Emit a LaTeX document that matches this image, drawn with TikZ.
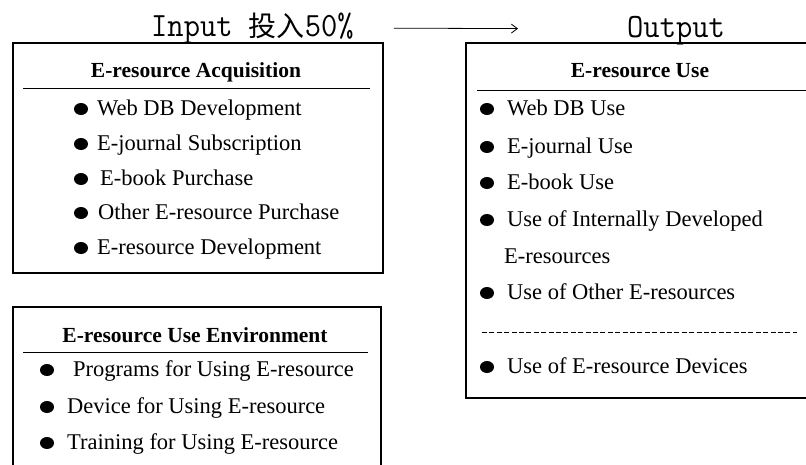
\documentclass[tikz,border=0pt]{standalone}
\usepackage{fontspec}
\setmainfont{Liberation Serif}
\newfontfamily\titlefont[FakeStretch=0.93]{Latin Modern Mono}
\newfontfamily\cjkfont{Noto Sans CJK SC}
\usetikzlibrary{arrows.meta}

\tikzset{
  boxline/.style={line width=1.3pt},
  headline/.style={line width=0.9pt},
  sepline/.style={line width=0.8pt, dash pattern=on 5pt off 2.4pt},
  head/.style={anchor=base, inner sep=0pt, font=\fontsize{21.5}{24}\selectfont\bfseries},
  item/.style={anchor=base west, inner sep=0pt, font=\fontsize{22.5}{26}\selectfont},
  title/.style={anchor=base west, inner sep=0pt, font=\fontsize{34}{38}\selectfont\titlefont},
  flow/.style={line width=0.8pt, -{Straight Barb[length=6pt,width=9pt]}}
}
\newcommand{\bulletdot}[2]{\fill (#1,#2) ellipse (7pt and 6pt);}

\begin{document}
\begin{tikzpicture}[x=1pt, y=-1pt]
        \useasboundingbox (0,0) rectangle (806,464);
        % \draw[help lines, gray!50, very thin] (0,0) grid[step=50] (806,464);

        \node[title] (input) at (151,36) {Input {\cjkfont\fontsize{28}{30}\selectfont 投入}50\%};
        \node[title] (output) at (627,37) {Output};
        \draw[flow, shorten <=40pt, shorten >=109pt] ([yshift=8pt]input.base east) -- ([yshift=8pt]output.base west);

        % input: acquisition
        \draw[boxline] (13,43) rectangle (383,273);
        \node[head] (acqhead) at (196,77) {E-resource Acquisition};
        \draw[headline] (23,88) -- (370,88);
        \bulletdot{81}{109}
        \node[item] (acqweb) at (97,115) {Web DB Development};
        \bulletdot{81}{144}
        \node[item] (acqjournal) at (97,150) {E-journal Subscription};
        \bulletdot{81}{179}
        \node[item] (acqbook) at (100,185) {E-book Purchase};
        \bulletdot{81}{213}
        \node[item] (acqother) at (98,219) {Other E-resource Purchase};
        \bulletdot{81}{248}
        \node[item] (acqdev) at (97,254) {E-resource Development};

        % input: environment
        \draw[boxline] (13,466) -- (13,307) -- (381,307) -- (381,466);
        \node[head] (envhead) at (195,342) {E-resource Use Environment};
        \draw[headline] (23,352) -- (368,352);
        \bulletdot{47}{370}
        \node[item] (envprog) at (73,376) {Programs for Using E-resource};
        \bulletdot{47}{407}
        \node[item] (envdevice) at (67,413) {Device for Using E-resource};
        \bulletdot{47}{443}
        \node[item] (envtrain) at (67,449) {Training for Using E-resource};

        % output: use
        \draw[boxline] (808,43) -- (466,43) -- (466,398) -- (808,398);
        \node[head] (usehead) at (640,77) {E-resource Use};
        \draw[headline] (477,90) -- (806,90);
        \bulletdot{487}{109}
        \node[item] (useweb) at (507,115) {Web DB Use};
        \bulletdot{487}{147}
        \node[item] (usejournal) at (507,153) {E-journal Use};
        \bulletdot{487}{183}
        \node[item] (usebook) at (507,189) {E-book Use};
        \bulletdot{487}{220}
        \node[item] (useinternal) at (507,226) {Use of Internally Developed};
        \node[item] (useinternalb) at (504,263) {E-resources};
        \bulletdot{487}{293}
        \node[item] (useother) at (507,299) {Use of Other E-resources};
        \draw[sepline] (482,332) -- (797,332);
        \bulletdot{487}{367}
        \node[item] (usedevice) at (507,373) {Use of E-resource Devices};
      \end{tikzpicture}
\end{document}
